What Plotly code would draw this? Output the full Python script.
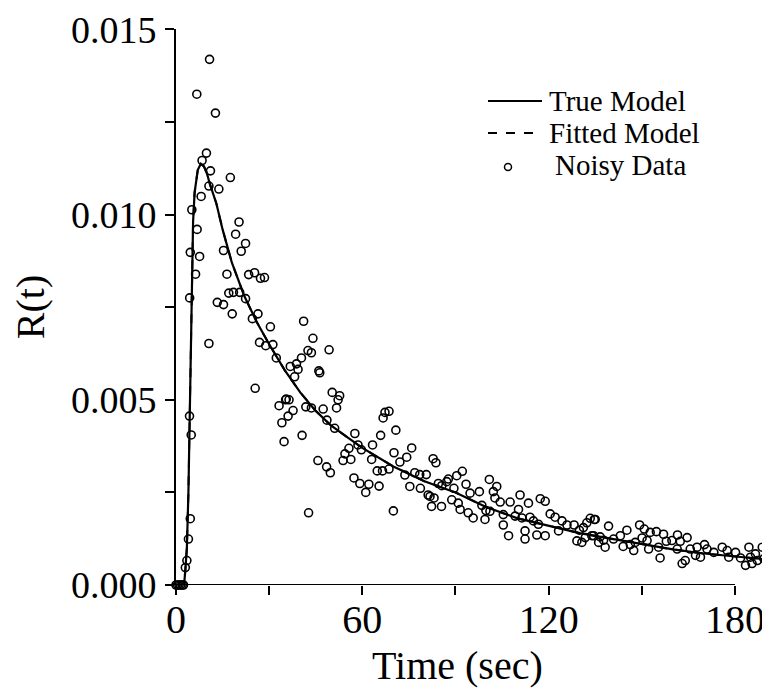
import plotly.graph_objects as go

# True model curve
T_MODEL = [0, 1, 2, 2.6, 3.0, 3.5, 4.0, 4.5, 5.0, 5.5, 6.0, 7.0, 8.0, 9.0, 10, 11, 13, 15, 18, 22, 26,
           30, 35, 40, 45, 50, 55, 60, 70, 80, 90, 100, 110, 120, 130, 140, 150, 160, 170, 180, 189]
R_MODEL = [0, 0, 0, 0, 0.0004, 0.0010, 0.0025, 0.0050, 0.0080, 0.0098, 0.0106, 0.0112, 0.01137, 0.0113,
           0.0111, 0.0108, 0.0103, 0.0096, 0.0087, 0.0078, 0.0071, 0.0065, 0.0058, 0.0052, 0.0047,
           0.0043, 0.0040, 0.0037, 0.0032, 0.0028, 0.0025, 0.0021, 0.0018, 0.0016, 0.0014, 0.00125,
           0.0011, 0.00096, 0.00085, 0.00077, 0.0007]

# Fitted model (visually coincident with the true model)
T_FIT = T_MODEL
R_FIT = R_MODEL

# Noisy data points (t, R)
T_DATA = [0, 0.5, 1, 1.5, 2, 2.4, 3.0, 3.5, 4.0, 4.6, 4.9, 4.35, 4.4, 4.6, 5.1, 6.3, 6.8, 7.6, 8.1, 8.4,
          9.8, 10.6, 10.6, 11.1, 6.7, 10.8, 12.7, 13.8, 17.5, 20.3, 19.2, 22.4, 21.0, 15.3, 16.4, 23.4,
          25.3, 27.2, 28.5, 17.0, 18.5, 20.5, 22.4, 13.3, 15.3, 18.1, 26.4, 24.6, 30.4, 41.1, 26.9,
          28.9, 31.2, 32.3, 40.4, 38.8, 36.8, 39.3, 38.2, 25.5, 35.5, 42.5, 33.2, 35.3, 36.4, 37.7,
          36.1, 34.1, 41.8, 40.6, 34.8, 42.7, 44.1, 43.6, 49.3, 46.0, 46.3, 50.3, 52.7, 52.2, 51.7,
          43.6, 47.4, 48.6, 51.1, 57.6, 65.9, 70.8, 67.3, 68.6, 66.7, 55.7, 58.6, 63.3, 54.4, 53.8,
          56.3, 59.7, 63.0, 45.7, 48.5, 49.7, 57.3, 59.2, 62.1, 61.1, 65.4, 64.8, 66.5, 68.6, 70.2,
          74.3, 75.9, 72.1, 73.7, 76.9, 78.5, 80.6, 82.8, 83.7, 75.3, 78.7, 81.2, 84.5, 87.2, 85.6,
          83.1, 70.0, 87.7, 90.4, 92.2, 81.8, 82.3, 85.5, 88.8, 90.9, 89.5, 93.4, 94.7, 97.7, 100.9,
          103.3, 102.2, 102.7, 104.4, 107.6, 110.8, 117.3, 118.9, 113.5, 91.5, 94.1, 95.7, 98.5,
          99.8, 101.1, 99.5, 105.4, 109.2, 110.3, 105.4, 111.4, 114.0, 115.1, 116.7, 107.1, 112.4,
          112.4, 116.2, 118.9, 120.5, 122.1, 124.3, 123.2, 125.9, 128.2, 129.9, 131.2, 132.3, 133.4,
          134.7, 129.1, 130.7, 131.8, 134.5, 136.1, 135.0, 133.9, 136.6, 138.2, 137.7, 139.3, 140.9,
          143.1, 144.0, 145.2, 146.3, 147.4, 147.9, 149.3, 150.1, 150.8, 151.7, 152.2, 152.7, 154.7,
          155.4, 155.9, 157.0, 157.9, 159.7, 161.5, 162.4, 161.4, 163.0, 164.0, 164.6, 165.6, 167.8,
          167.3, 168.9, 170.2, 171.0, 173.2, 175.9, 177.5, 178.0, 180.2, 181.8, 183.4, 184.5, 185.5,
          186.6, 187.2, 188.8, 189.3, 185.0]
R_DATA = [0, 0, 0, 0, 0, 0, 0.00047, 0.00066, 0.00124, 0.00179, 0.00405, 0.00456, 0.00775, 0.00898,
          0.01013, 0.00839, 0.0096, 0.00887, 0.01049, 0.01146, 0.01166, 0.01077, 0.00652, 0.01118,
          0.01325, 0.01419, 0.01274, 0.01069, 0.0110, 0.0098, 0.00947, 0.00922, 0.00901, 0.00903,
          0.00839, 0.00838, 0.00843, 0.00828, 0.0083, 0.00788, 0.0079, 0.0079, 0.00773, 0.00763,
          0.00757, 0.00732, 0.00732, 0.00719, 0.00697, 0.00712, 0.00655, 0.00646, 0.00649, 0.00613,
          0.00613, 0.00597, 0.0059, 0.00582, 0.00562, 0.00531, 0.00502, 0.00633, 0.00484, 0.0050,
          0.0050, 0.00471, 0.00456, 0.00438, 0.00481, 0.00404, 0.00387, 0.00195, 0.00666, 0.00627,
          0.00635, 0.00578, 0.00573, 0.0052, 0.00511, 0.0050, 0.00478, 0.00478, 0.00475, 0.00445,
          0.00423, 0.00409, 0.00404, 0.00418, 0.00466, 0.00469, 0.00451, 0.00369, 0.00378, 0.00378,
          0.00354, 0.00336, 0.00339, 0.00365, 0.00339, 0.00336, 0.00319, 0.00303, 0.00289, 0.00274,
          0.00272, 0.0025, 0.00267, 0.00308, 0.00308, 0.00313, 0.00357, 0.00345, 0.0037, 0.00332,
          0.00297, 0.00303, 0.00298, 0.00298, 0.00341, 0.0033, 0.00266, 0.00261, 0.00243, 0.00274,
          0.00279, 0.00268, 0.00235, 0.0020, 0.00286, 0.00295, 0.00307, 0.00239, 0.00212, 0.00212,
          0.0023, 0.00221, 0.00261, 0.00272, 0.00248, 0.00252, 0.00285, 0.00266, 0.00252, 0.00235,
          0.00224, 0.00224, 0.00243, 0.00233, 0.00226, 0.00221, 0.00204, 0.00195, 0.00181, 0.00215,
          0.00201, 0.00199, 0.00177, 0.0019, 0.00186, 0.00204, 0.00162, 0.00181, 0.00183, 0.00173,
          0.00164, 0.00133, 0.00146, 0.00124, 0.00135, 0.00133, 0.00192, 0.00183, 0.00173, 0.00146,
          0.00162, 0.00162, 0.00148, 0.00155, 0.00168, 0.0018, 0.00177, 0.00119, 0.00115, 0.00128,
          0.00133, 0.00115, 0.00177, 0.00133, 0.0013, 0.00102, 0.00121, 0.00159, 0.00124, 0.00133,
          0.00104, 0.00148, 0.00109, 0.00093, 0.00115, 0.00162, 0.00127, 0.00151, 0.0012, 0.00097,
          0.00142, 0.00144, 0.00102, 0.00073, 0.00137, 0.00118, 0.0012, 0.00135, 0.00118, 0.00097,
          0.00058, 0.00066, 0.00128, 0.00097, 0.00102, 0.0008, 0.00075, 0.00109, 0.00097, 0.00088,
          0.00102, 0.00093, 0.00075, 0.00088, 0.00073, 0.00053, 0.00102, 0.00058, 0.00084, 0.00066,
          0.00102, 0.00071, 0.00075]

X_TICKS = [0, 60, 120, 180]
X_MINOR = [30, 90, 150]
Y_TICKS = [0.000, 0.005, 0.010, 0.015]
Y_MINOR = [0.0025, 0.0075, 0.0125]
LEGEND_LABELS = ["True Model", "Fitted Model", "Noisy Data"]
X_TITLE = "Time (sec)"
Y_TITLE = "R(t)"

FONT = "Liberation Serif"
# the page body has an 8px default margin, so the figure is 8px smaller than the window
W, H = 762, 686
L, R, T, B = 168, 4, 21, 109


def px(xp):
    return (xp - L) / (W - L - R)


def py(yp):
    return (H - B - yp) / (H - T - B)


fig = go.Figure()
fig.add_trace(go.Scatter(x=T_MODEL, y=R_MODEL, mode="lines", name=LEGEND_LABELS[0],
                         line=dict(color="black", width=2.2), cliponaxis=False, showlegend=False))
fig.add_trace(go.Scatter(x=T_FIT, y=R_FIT, mode="lines", name=LEGEND_LABELS[1],
                         line=dict(color="black", width=2, dash="dash"), cliponaxis=False,
                         showlegend=False))
fig.add_trace(go.Scatter(x=T_DATA, y=R_DATA, mode="markers", name=LEGEND_LABELS[2],
                         marker=dict(symbol="circle-open", size=8, color="black",
                                     line=dict(width=1.6, color="black")),
                         cliponaxis=False, showlegend=False))

# x-axis spine ending at the last tick
fig.add_shape(type="line", xref="x", yref="y", x0=0, x1=180, y0=0, y1=0,
              line=dict(color="black", width=2), layer="below")

# hand-drawn legend (tight rows like the original), pixel positions within the figure
rows = [93, 125, 157]
fig.add_shape(type="line", xref="paper", yref="paper", x0=px(480), x1=px(534),
              y0=py(rows[0]), y1=py(rows[0]), line=dict(color="black", width=2))
fig.add_shape(type="line", xref="paper", yref="paper", x0=px(480), x1=px(534),
              y0=py(rows[1]), y1=py(rows[1]), line=dict(color="black", width=2, dash="dash"))
fig.add_shape(type="circle", xref="paper", yref="paper", xsizemode="pixel", ysizemode="pixel",
              xanchor=px(500), yanchor=py(rows[2] + 2), x0=-3.5, x1=3.5, y0=-3.5, y1=3.5,
              line=dict(color="black", width=1.5))
for i, lab in enumerate(LEGEND_LABELS):
    fig.add_annotation(text=lab, xref="paper", yref="paper", x=px(539 if i < 2 else 545),
                       y=py(rows[i]), xanchor="left", yanchor="middle", showarrow=False,
                       font=dict(family=FONT, size=29, color="black"))

# x-axis title placed like the original (slightly left of the plot centre)
fig.add_annotation(text=X_TITLE, xref="paper", yref="paper", x=px(449), y=py(657),
                   xanchor="center", yanchor="middle", showarrow=False,
                   font=dict(family=FONT, size=40, color="black"))

fig.update_layout(
    width=W, height=H,
    margin=dict(l=L, r=R, t=T, b=B),
    plot_bgcolor="white", paper_bgcolor="white",
    font=dict(family=FONT, size=40, color="black"),
    showlegend=False,
)
fig.update_xaxes(range=[0, 190], showgrid=False, zeroline=False, showline=False,
                 tickmode="array", tickvals=X_TICKS, ticktext=[str(v) for v in X_TICKS],
                 ticks="outside", ticklen=9, tickwidth=2, tickcolor="black",
                 ticklabelstandoff=-10, ticklabeloverflow="allow",
                 minor=dict(tickmode="array", tickvals=X_MINOR, ticks="outside",
                            ticklen=9, tickwidth=2, tickcolor="black"),
                 tickfont=dict(family=FONT, size=40), automargin=False)
fig.update_yaxes(range=[0, 0.01501], showgrid=False, zeroline=False, showline=True,
                 linecolor="black", linewidth=2,
                 tickmode="array", tickvals=Y_TICKS, ticktext=[f"{v:.3f}" for v in Y_TICKS],
                 ticks="outside", ticklen=9, tickwidth=2, tickcolor="black",
                 ticklabelstandoff=1, ticklabeloverflow="allow",
                 minor=dict(tickmode="array", tickvals=Y_MINOR, ticks="outside",
                            ticklen=9, tickwidth=2, tickcolor="black"),
                 title=dict(text=Y_TITLE, font=dict(family=FONT, size=40), standoff=17),
                 tickfont=dict(family=FONT, size=38), automargin=False)

fig.write_html("out.html")
